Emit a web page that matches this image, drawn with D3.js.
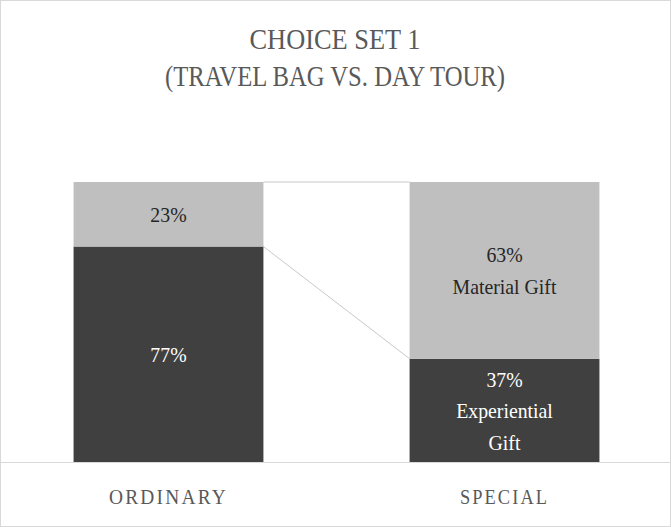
<!DOCTYPE html>
<html>
<head>
<meta charset="utf-8">
<script src="https://cdn.jsdelivr.net/npm/d3@7"></script>
<style>
  html, body { margin: 0; padding: 0; background: #fff; }
  svg { display: block; }
</style>
</head>
<body>
<svg id="chart" width="671" height="527"></svg>
<script>
// ---- data ----
const categories = ["ORDINARY", "SPECIAL"];
const experientialValues = [77, 37];
const materialValues = [23, 63];
const experientialLabels = [["77%"], ["37%", "Experiential", "Gift"]];
const materialLabels = [["23%"], ["63%", "Material Gift"]];
const titleLines = ["CHOICE SET 1", "(TRAVEL BAG VS. DAY TOUR)"];

// ---- setup ----
const W = 671, H = 527;
const svg = d3.select("#chart");
const font = "'Liberation Serif', 'Times New Roman', serif";

svg.append("rect").attr("x", 0.5).attr("y", 0.5).attr("width", W - 1).attr("height", H - 1)
  .attr("fill", "#fff").attr("stroke", "#d9d9d9");

const x = d3.scaleBand().domain(categories).range([3, 670]).paddingInner(0.435).paddingOuter(0.21);
const y = d3.scaleLinear().domain([0, 100]).range([462.5, 182]);

const stacks = categories.map((c, i) => ({
  cat: c,
  segs: [
    { y0: 0, y1: experientialValues[i], fill: "#404040", text: "#ffffff", lines: experientialLabels[i] },
    { y0: experientialValues[i], y1: experientialValues[i] + materialValues[i], fill: "#bfbfbf", text: "#262626", lines: materialLabels[i] }
  ]
}));

// series lines between bars
const lineG = svg.append("g");
[0, 1].forEach(s => {
  const a = stacks[0].segs[s], b = stacks[1].segs[s];
  lineG.append("line")
    .attr("x1", x(categories[0]) + x.bandwidth()).attr("y1", y(a.y1))
    .attr("x2", x(categories[1])).attr("y2", y(b.y1))
    .attr("stroke", "#c8c8c8").attr("stroke-width", 1);
});

// bars
const barG = svg.append("g");
stacks.forEach(st => {
  st.segs.forEach(sg => {
    barG.append("rect")
      .attr("x", x(st.cat)).attr("width", x.bandwidth())
      .attr("y", y(sg.y1)).attr("height", y(sg.y0) - y(sg.y1))
      .attr("fill", sg.fill);
  });
});

// axis line + category labels
const xAxis = d3.axisBottom(x).tickSize(0).tickPadding(0);
const axG = svg.append("g").attr("transform", "translate(0,462.5)").call(xAxis);
axG.select(".domain").attr("d", "M1,0H670").attr("stroke", "#d9d9d9");
axG.selectAll(".tick text")
  .attr("y", 41)
  .attr("dy", 0)
  .attr("font-family", font)
  .attr("font-size", 22)
  .attr("fill", "#595959")
  .attr("letter-spacing", "2.5px")
  .attr("text-anchor", "middle")
  .attr("textLength", d => d === "ORDINARY" ? 119 : 89)
  .attr("lengthAdjust", "spacingAndGlyphs");

// segment labels
const lh = 31.5;
const labG = svg.append("g").attr("font-family", font).attr("font-size", 22);
stacks.forEach(st => {
  const cx = x(st.cat) + x.bandwidth() / 2;
  st.segs.forEach(sg => {
    const cy = (y(sg.y0) + y(sg.y1)) / 2;
    const n = sg.lines.length;
    sg.lines.forEach((ln, k) => {
      const ly = cy + (k - (n - 1) / 2) * lh + 7.5;
      labG.append("text")
        .attr("transform", `translate(${cx},${ly}) scale(0.9,1)`)
        .attr("text-anchor", "middle")
        .attr("fill", sg.text)
        .text(ln);
    });
  });
});

// title
const tG = svg.append("g").attr("font-family", font).attr("font-size", 30).attr("fill", "#595959");
tG.append("text").attr("x", 335).attr("y", 49).attr("text-anchor", "middle")
  .attr("textLength", 171).attr("lengthAdjust", "spacingAndGlyphs").text(titleLines[0]);
tG.append("text").attr("x", 335).attr("y", 86).attr("text-anchor", "middle")
  .attr("textLength", 340).attr("lengthAdjust", "spacingAndGlyphs").text(titleLines[1]);
</script>
</body>
</html>
